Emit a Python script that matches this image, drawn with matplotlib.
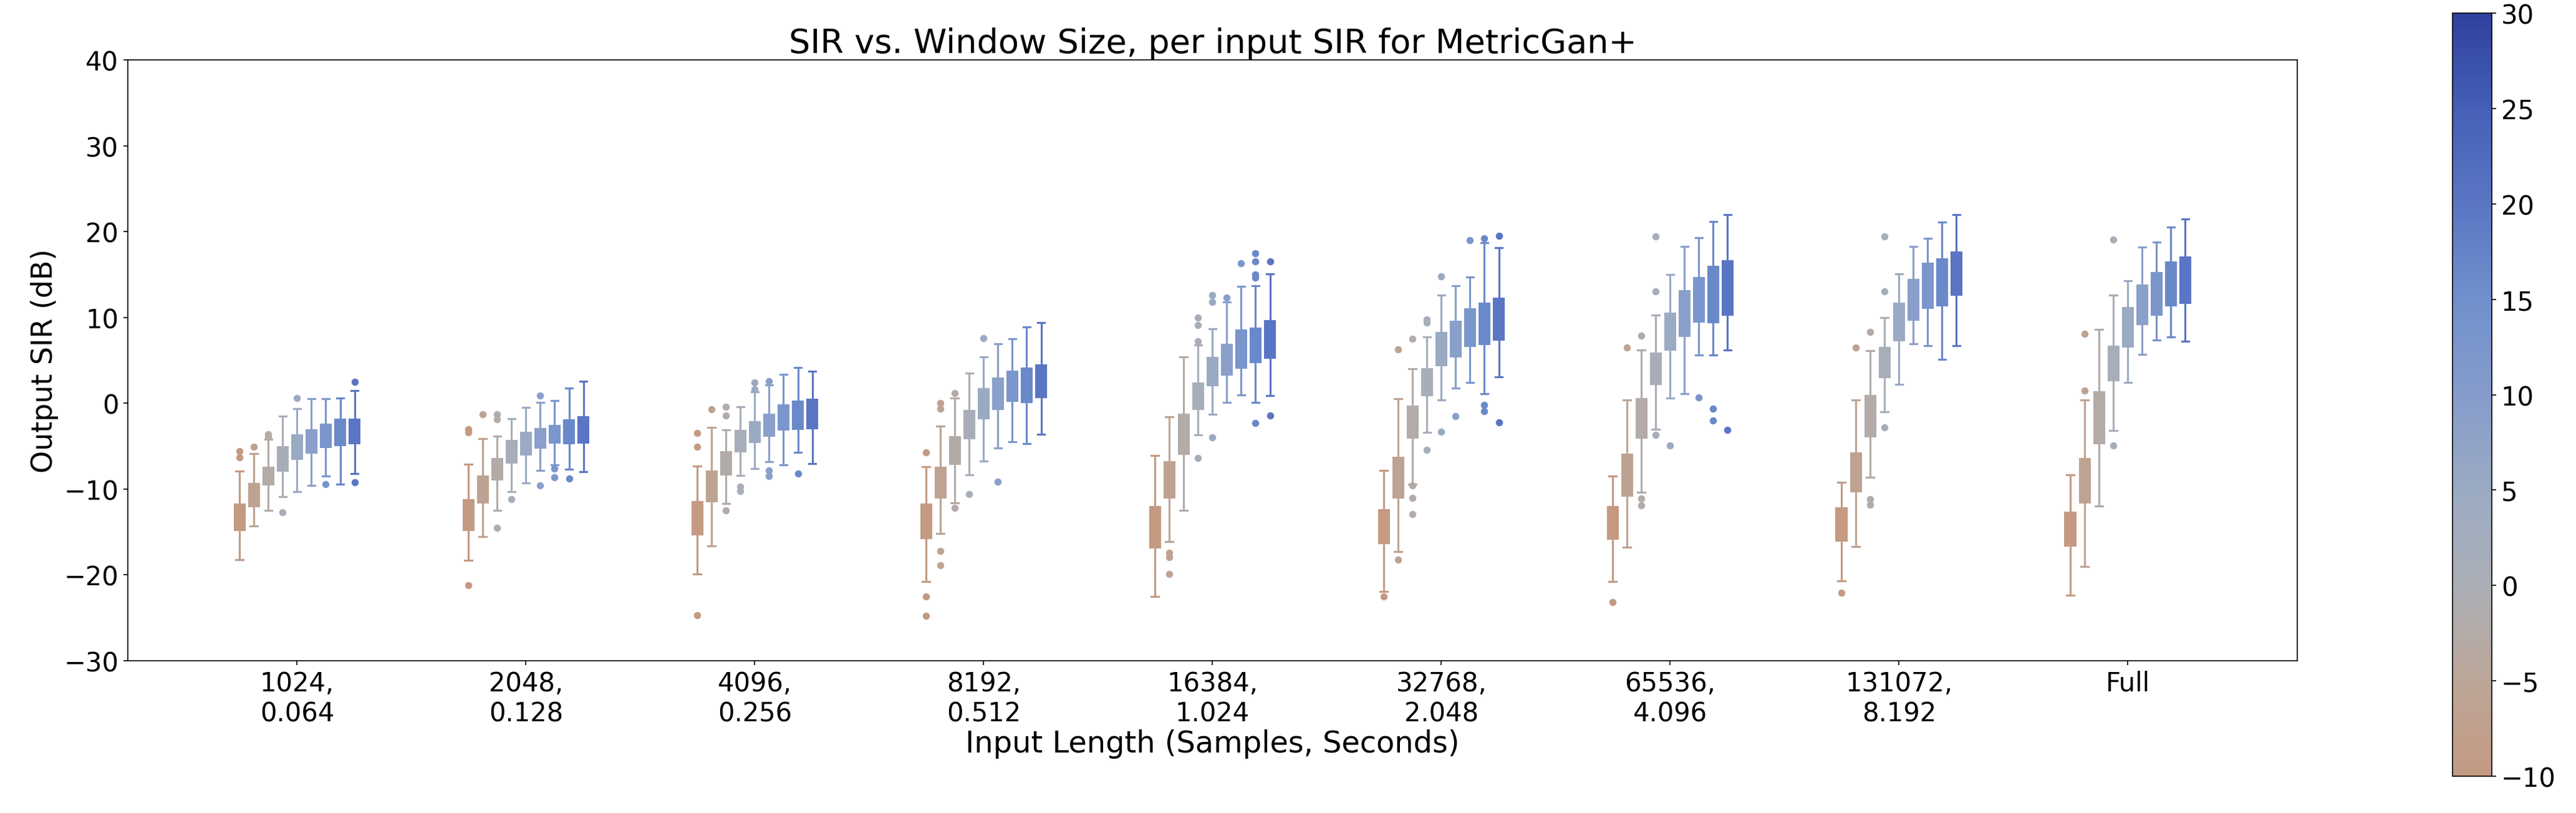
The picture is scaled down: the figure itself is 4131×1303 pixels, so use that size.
"""SIR vs. window size box plots, one box per input SIR level."""
import numpy as np
import matplotlib
matplotlib.use("Agg")
import matplotlib.pyplot as plt
from matplotlib.colors import LinearSegmentedColormap, Normalize
from matplotlib.cm import ScalarMappable

# x categories: window length (samples, seconds)
window_labels = ["1024,\n0.064", "2048,\n0.128", "4096,\n0.256", "8192,\n0.512",
                 "16384,\n1.024", "32768,\n2.048", "65536,\n4.096", "131072,\n8.192", "Full"]
# hue levels: input SIR (dB)
input_sir = [-10, -6.25, -2.5, 1.25, 5, 8.75, 12.5, 16.25, 20]

# one row per window length, one column per input SIR
whishi = [
    [-7.9, -5.9, -4.2, -1.5, -0.6, 0.5, 0.5, 0.6, 1.5],
    [-7.1, -4.1, -3.8, -1.8, -0.5, 0.1, 0.3, 1.8, 2.6],
    [-7.3, -2.8, -3.1, -0.4, 1.3, 2.1, 3.4, 4.2, 3.7],
    [-7.4, -2.7, 0.6, 3.5, 5.4, 6.9, 7.5, 8.9, 9.4],
    [-6.1, -1.6, 5.4, 6.8, 8.7, 11.8, 13.6, 13.7, 15.1],
    [-7.8, 0.5, 4.0, 7.7, 12.6, 13.7, 14.7, 18.7, 18.1],
    [-8.5, 0.4, 6.2, 10.3, 15.0, 18.3, 19.3, 21.2, 22.0],
    [-9.2, 0.4, 6.1, 10.0, 15.1, 18.3, 19.2, 21.1, 22.0],
    [-8.3, 0.4, 8.6, 12.6, 14.3, 18.2, 18.8, 20.5, 21.5],
]
q3 = [
    [-11.7, -9.3, -7.4, -5.0, -3.6, -3.0, -2.4, -1.8, -1.8],
    [-11.2, -8.4, -6.4, -4.3, -3.3, -2.9, -2.5, -1.9, -1.5],
    [-11.4, -7.8, -5.6, -3.1, -2.1, -1.2, -0.1, 0.3, 0.5],
    [-11.7, -7.4, -3.8, -0.8, 1.8, 3.0, 3.8, 4.2, 4.5],
    [-12.0, -6.7, -1.2, 2.4, 5.4, 6.9, 8.6, 8.8, 9.7],
    [-12.3, -6.2, -0.3, 4.1, 8.3, 9.6, 11.1, 11.7, 12.3],
    [-12.0, -5.9, 0.6, 5.9, 10.6, 13.2, 14.7, 16.0, 16.7],
    [-12.1, -5.7, 1.0, 6.6, 11.7, 14.5, 16.4, 16.9, 17.7],
    [-12.6, -6.4, 1.4, 6.7, 11.2, 13.8, 15.3, 16.5, 17.1],
]
q1 = [
    [-14.9, -12.1, -9.6, -8.0, -6.6, -5.9, -5.2, -5.0, -4.8],
    [-14.9, -11.7, -9.0, -7.0, -6.1, -5.3, -4.7, -4.8, -4.7],
    [-15.4, -11.5, -8.4, -5.7, -4.6, -3.9, -3.2, -3.1, -3.0],
    [-15.8, -11.1, -7.2, -4.2, -1.9, -0.8, 0.2, 0.0, 0.6],
    [-16.9, -11.1, -6.0, -0.8, 2.0, 3.2, 4.0, 4.7, 5.2],
    [-16.4, -11.1, -4.1, 0.8, 4.3, 5.3, 6.6, 6.8, 7.3],
    [-15.9, -10.9, -4.1, 2.1, 6.1, 7.7, 9.4, 9.3, 10.2],
    [-16.1, -10.4, -4.0, 2.9, 7.2, 9.6, 11.0, 11.3, 12.5],
    [-16.7, -11.7, -4.8, 2.6, 6.5, 9.1, 10.2, 11.3, 11.6],
]
whislo = [
    [-18.2, -14.3, -12.5, -10.9, -10.3, -9.6, -8.5, -9.4, -8.2],
    [-18.3, -15.5, -12.5, -10.3, -9.3, -7.8, -7.2, -7.7, -8.0],
    [-19.9, -16.6, -11.7, -8.4, -7.6, -6.8, -7.2, -5.7, -7.0],
    [-20.8, -15.2, -11.6, -8.3, -6.7, -5.2, -4.5, -4.7, -3.6],
    [-22.5, -16.1, -12.5, -3.7, -1.3, 0.1, 1.0, 0.1, 0.9],
    [-21.9, -17.3, -9.4, -3.4, 0.4, 1.8, 2.4, 1.1, 3.1],
    [-20.8, -16.8, -10.4, -3.0, 0.6, 1.1, 5.6, 5.6, 6.2],
    [-20.7, -16.7, -8.6, -1.0, 2.2, 6.9, 6.7, 5.1, 6.7],
    [-22.4, -19.0, -12.0, -3.2, 2.4, 5.7, 7.4, 7.7, 7.2],
]
fliers = [
    [[-5.6, -6.3], [-5.1], [-3.6, -3.9], [-12.7], [0.6], [], [-9.4], [], [2.5, -9.2]],
    [[-3.0, -3.4, -21.2], [-1.3], [-1.3, -1.9, -14.5], [-11.2], [], [0.9, -9.6], [-7.6, -8.6], [-8.8], []],
    [[-3.5, -5.1, -24.7], [-0.7], [-0.4, -1.4, -12.5], [-9.7, -10.2], [2.4, 1.6], [2.6, -7.8, -8.5], [], [-8.2], []],
    [[-5.7, -22.5, -24.8], [0.0, -0.6, -17.2, -18.9], [1.2, -12.2], [-10.6], [7.6], [-9.1], [], [], []],
    [[], [-17.4, -17.9, -19.9], [], [10.0, 9.1, 7.2, -6.4], [12.6, 11.8, -4.0], [12.3], [16.3],
     [17.5, 16.5, 15.0, 14.6, -2.3], [16.5, -1.4]],
    [[-22.5], [6.3, -18.2], [7.5, -9.6, -11.0, -12.9], [9.8, 9.4, -5.4], [14.8, -3.3], [-1.5], [19.0],
     [19.2, -0.2, -0.9], [19.5, -2.2]],
    [[-23.2], [6.5], [7.9, -11.1, -11.9], [19.4, 13.0, -3.7], [-4.9], [], [0.7], [-0.6, -2.0], [-3.1]],
    [[-22.1], [6.5], [8.3, -11.2, -11.8], [19.4, 13.0, -2.8], [], [], [], [], []],
    [[], [8.1, 1.5], [], [19.1, -4.9], [], [], [], [], []],
]

# colour map taken from the colour bar (-10 .. 30 dB)
cbar_colors = ["#c49a82", "#bca699", "#abafb6", "#9baac3", "#859ccb",
               "#7090cc", "#5a76c3", "#4560b6", "#2f419e"]
cmap = LinearSegmentedColormap.from_list("sir", cbar_colors)
norm = Normalize(vmin=-10, vmax=30)

plt.rcParams["font.size"] = 20

fig = plt.figure(figsize=(27.54, 8.693), dpi=150)
ax = fig.add_axes([0.0496, 0.1871, 0.8422, 0.7385])

n_groups = len(window_labels)
step = 0.0627
box_w = 0.054
for j, sir in enumerate(input_sir):
    col = cmap(norm(sir))
    stats = []
    for g in range(n_groups):
        stats.append(dict(med=q1[g][j], q1=q1[g][j], q3=q3[g][j],
                          whislo=whislo[g][j], whishi=whishi[g][j],
                          fliers=fliers[g][j]))
    pos = np.arange(n_groups) + (j - (len(input_sir) - 1) / 2) * step
    ax.bxp(stats, positions=pos, widths=box_w, capwidths=box_w * 0.6,
           patch_artist=True, manage_ticks=False,
           boxprops=dict(facecolor=col, edgecolor=col, linewidth=0),
           whiskerprops=dict(color=col, linewidth=1.5),
           capprops=dict(color=col, linewidth=1.5),
           medianprops=dict(visible=False),
           flierprops=dict(marker="o", markerfacecolor=col, markeredgecolor=col,
                           markersize=4.5, linestyle="none"))

ax.set_xlim(-0.74, n_groups - 1 + 0.74)
ax.set_ylim(-30, 40)
ax.set_yticks(range(-30, 41, 10))
ax.set_xticks(range(n_groups))
ax.set_xticklabels(window_labels)
ax.set_title("SIR vs. Window Size, per input SIR for MetricGan+", fontsize=26)
ax.set_xlabel("Input Length (Samples, Seconds)", fontsize=23, labelpad=2)
ax.set_ylabel("Output SIR (dB)", fontsize=22)

cax = fig.add_axes([0.9521, 0.0452, 0.0153, 0.9379])
sm = ScalarMappable(norm=norm, cmap=cmap)
cb = fig.colorbar(sm, cax=cax)
cb.set_ticks(range(-10, 31, 5))

fig.savefig("out.png", dpi=150)
